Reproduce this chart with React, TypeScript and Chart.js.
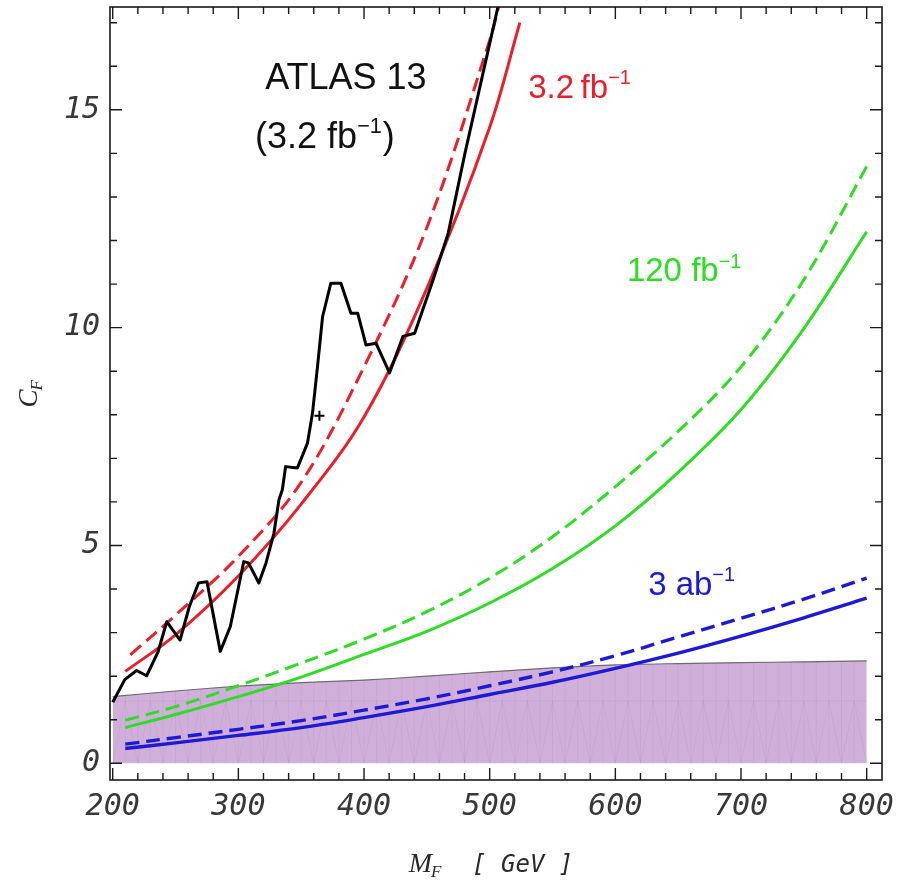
import React, { useEffect, useRef } from 'react';
import { Chart, registerables } from 'chart.js';

Chart.register(...registerables);

// ---- axis ranges and ticks ----
const xMin = 197.85;
const xMax = 812.2;
const yMin = -0.383;
const yMax = 17.36;
const xTickValues = [200, 300, 400, 500, 600, 700, 800];
const yTickValues = [0, 5, 10, 15];

// ---- ATLAS 13 TeV observed limit (3.2 fb^-1) ----
const atlasMass = [200, 209.6, 219, 227, 236, 243, 253.6, 261, 268.3, 275, 285.6, 293.6, 304.3, 308, 316.3, 322, 328.3, 332.3, 335, 337.6, 347, 355, 359, 363, 367, 373.6, 381.6, 389.6, 395, 401.6, 409.6, 420.3, 431, 440.3, 455, 467, 480.3, 510];
const atlasLimit = [1.4, 1.92, 2.13, 2.01, 2.55, 3.25, 2.83, 3.6, 4.14, 4.17, 2.57, 3.14, 4.63, 4.6, 4.14, 4.6, 5.28, 6.05, 6.28, 6.81, 6.78, 7.35, 8.04, 9.11, 10.25, 11.02, 11.02, 10.33, 10.33, 9.6, 9.64, 8.96, 9.8, 9.87, 11.1, 12.17, 14.0, 17.8];
const atlasMarkerMass = [364.5];
const atlasMarkerValue = [7.98];

// ---- 3.2 fb^-1 projections ----
const red32Mass = [210, 250, 300, 350, 400, 450, 500, 524];
const red32Solid = [2.11, 2.95, 4.3, 5.95, 7.95, 10.9, 14.6, 17.0];
const red32DashedMass = [214, 250, 300, 350, 400, 450, 500, 510];
const red32Dashed = [2.49, 3.4, 4.75, 6.45, 9.1, 12.3, 16.6, 17.7];

// ---- 120 fb^-1 and 3 ab^-1 projections ----
const curveMass = [210, 250, 300, 350, 400, 450, 500, 550, 600, 650, 700, 750, 800];
const green120Solid = [0.82, 1.12, 1.53, 1.98, 2.5, 3.03, 3.68, 4.47, 5.45, 6.68, 8.12, 9.98, 12.2];
const green120Dashed = [0.99, 1.3, 1.78, 2.3, 2.85, 3.48, 4.25, 5.2, 6.35, 7.62, 9.1, 11.1, 13.7];
const blue3000Solid = [0.34, 0.47, 0.64, 0.82, 1.05, 1.3, 1.58, 1.86, 2.18, 2.53, 2.92, 3.34, 3.79];
const blue3000Dashed = [0.44, 0.59, 0.78, 0.98, 1.22, 1.48, 1.78, 2.1, 2.47, 2.9, 3.33, 3.77, 4.25];

// ---- shaded region ----
const bandMass = [200, 250, 300, 350, 400, 450, 500, 550, 600, 650, 700, 750, 800];
const bandTop = [1.53, 1.66, 1.77, 1.85, 1.91, 2.0, 2.1, 2.19, 2.26, 2.29, 2.31, 2.33, 2.35];

const RED = '#e8202a';
const GREEN = '#2fdc24';
const BLUE = '#1d1ad6';
const BAND_FILL = 'rgba(206, 172, 216, 0.95)';

const SANS = '"Liberation Sans", Arial, Helvetica, sans-serif';
const MONO = '"DejaVu Sans Mono", monospace';
const SERIF = '"Liberation Serif", "DejaVu Serif", serif';

type Part = { text: string; sup?: boolean };
type Note = { parts: Part[]; mass: number; value: number; size: number; color: string };

// text annotations: left edge (mass) and baseline (C_F)
const notes: Note[] = [
  { parts: [{ text: 'ATLAS 13' }], mass: 321.3, value: 15.48, size: 36, color: '#111' },
  { parts: [{ text: '(3.2 fb' }, { text: '\u22121', sup: true }, { text: ')' }], mass: 313.3, value: 14.13, size: 36, color: '#111' },
  { parts: [{ text: '3.2\u2009fb' }, { text: '\u22121', sup: true }], mass: 530.6, value: 15.28, size: 33, color: RED },
  { parts: [{ text: '120 fb' }, { text: '\u22121', sup: true }], mass: 609.2, value: 11.06, size: 33, color: GREEN },
  { parts: [{ text: '3 ab' }, { text: '\u22121', sup: true }], mass: 626.1, value: 3.86, size: 33, color: BLUE },
];

const BAND_INDEX = 8;

function pts(xs: number[], ys: number[]) {
  return xs.map((m, i) => ({ x: m, y: ys[i] }));
}

function drawParts(ctx: CanvasRenderingContext2D, parts: Part[], x: number, y: number, size: number, color: string) {
  ctx.fillStyle = color;
  ctx.textBaseline = 'alphabetic';
  ctx.textAlign = 'left';
  let cx = x;
  for (const p of parts) {
    const s = p.sup ? size * 0.6 : size;
    ctx.font = `${s}px ${SANS}`;
    const dy = p.sup ? -size * 0.42 : 0;
    ctx.fillText(p.text, cx, y + dy);
    cx += ctx.measureText(p.text).width + (p.sup ? 1 : 0);
  }
}

const decorPlugin = {
  id: 'decor',
  afterDatasetDraw(chart: any, args: any) {
    if (args.index !== BAND_INDEX) return;
    const { ctx, scales } = chart;
    const x = scales.x;
    const y = scales.y;
    ctx.save();
    ctx.beginPath();
    ctx.moveTo(x.getPixelForValue(bandMass[0]), y.getPixelForValue(0));
    bandMass.forEach((m, i) => ctx.lineTo(x.getPixelForValue(m), y.getPixelForValue(bandTop[i])));
    ctx.lineTo(x.getPixelForValue(bandMass[bandMass.length - 1]), y.getPixelForValue(0));
    ctx.closePath();
    ctx.clip();
    // faint mesh inside the shaded region
    ctx.strokeStyle = 'rgba(110, 60, 130, 0.10)';
    ctx.lineWidth = 0.8;
    const y0 = y.getPixelForValue(0);
    const yMid = y.getPixelForValue(1.43);
    const yTop = y.getPixelForValue(2.6);
    ctx.beginPath();
    for (let m = 200; m <= 800; m += 10) {
      const px = x.getPixelForValue(m);
      ctx.moveTo(px, y0);
      ctx.lineTo(px, yTop);
    }
    let up = true;
    ctx.moveTo(x.getPixelForValue(200), y0);
    for (let m = 210; m <= 800; m += 10) {
      ctx.lineTo(x.getPixelForValue(m), up ? yMid : y0);
      up = !up;
    }
    ctx.moveTo(x.getPixelForValue(200), yMid);
    ctx.lineTo(x.getPixelForValue(800), yMid);
    ctx.stroke();
    ctx.restore();
  },
  afterDraw(chart: any) {
    const { ctx, chartArea, scales } = chart;
    const { left, right, top, bottom } = chartArea;
    const x = scales.x;
    const y = scales.y;
    ctx.save();

    // frame
    ctx.strokeStyle = '#1a1a1a';
    ctx.lineWidth = 1.6;
    ctx.strokeRect(left, top, right - left, bottom - top);

    // tick marks on all four sides
    ctx.lineWidth = 1.4;
    ctx.beginPath();
    for (let m = 200; m <= 800; m += 20) {
      const px = x.getPixelForValue(m);
      const len = m % 100 === 0 ? 12 : 7;
      ctx.moveTo(px, bottom);
      ctx.lineTo(px, bottom - len);
      ctx.moveTo(px, top);
      ctx.lineTo(px, top + len);
    }
    for (let c = 0; c <= 17; c += 1) {
      const py = y.getPixelForValue(c);
      const len = c % 5 === 0 ? 12 : 7;
      ctx.moveTo(left, py);
      ctx.lineTo(left + len, py);
      ctx.moveTo(right, py);
      ctx.lineTo(right - len, py);
    }
    ctx.stroke();

    // annotations
    for (const n of notes) {
      drawParts(ctx, n.parts, x.getPixelForValue(n.mass), y.getPixelForValue(n.value), n.size, n.color);
    }

    // x-axis title: M_F [ GeV ]
    ctx.fillStyle = '#2a2a2a';
    ctx.textBaseline = 'alphabetic';
    ctx.textAlign = 'left';
    const cx = (left + right) / 2;
    const by = bottom + 92;
    ctx.font = `italic 28px ${SERIF}`;
    const mW = ctx.measureText('M').width;
    ctx.font = `italic 24px ${MONO}`;
    const gW = ctx.measureText('[ GeV ]').width;
    const total = mW + 14 + 26 + gW;
    const tx = cx - total / 2 - 5;
    ctx.font = `italic 28px ${SERIF}`;
    ctx.fillText('M', tx, by);
    ctx.font = `italic 17px ${SERIF}`;
    ctx.fillText('F', tx + mW - 1, by + 5);
    ctx.font = `italic 24px ${MONO}`;
    ctx.fillText('[ GeV ]', tx + mW + 40, by);

    // y-axis title: C_F (rotated)
    ctx.save();
    ctx.translate(37, (top + bottom) / 2 + 14);
    ctx.rotate(-Math.PI / 2);
    ctx.font = `italic 27px ${SERIF}`;
    const cW = ctx.measureText('C').width;
    ctx.fillText('C', 0, 0);
    ctx.font = `italic 17px ${SERIF}`;
    ctx.fillText('F', cW - 1, 5);
    ctx.restore();

    ctx.restore();
  },
};

export default function App() {
  const ref = useRef<HTMLCanvasElement>(null);

  useEffect(() => {
    document.body.style.margin = '0';
    const canvas = ref.current;
    if (!canvas) return;

    const curve = (data: { x: number; y: number }[], color: string, dashed: boolean, width = 3) => ({
      data,
      borderColor: color,
      backgroundColor: color,
      borderWidth: width,
      borderDash: dashed ? [14, 7] : [],
      pointRadius: 0,
      fill: false,
      tension: 0.35,
      clip: 0,
    });

    const chart = new Chart(canvas, {
      type: 'line',
      data: {
        datasets: [
          {
            data: pts(atlasMass, atlasLimit),
            borderColor: '#000',
            borderWidth: 3,
            pointRadius: 0,
            tension: 0,
            borderJoinStyle: 'round',
            fill: false,
            clip: 0,
          },
          {
            data: pts(atlasMarkerMass, atlasMarkerValue),
            showLine: false,
            pointStyle: 'cross',
            pointRadius: 5,
            borderColor: '#000',
            pointBorderWidth: 2,
          },
          curve(pts(red32Mass, red32Solid), RED, false),
          curve(pts(red32DashedMass, red32Dashed), RED, true),
          curve(pts(curveMass, green120Solid), GREEN, false),
          curve(pts(curveMass, green120Dashed), GREEN, true),
          curve(pts(curveMass, blue3000Solid), BLUE, false, 3.4),
          curve(pts(curveMass, blue3000Dashed), BLUE, true, 3.4),
          {
            data: pts(bandMass, bandTop),
            borderColor: '#6e6a6e',
            borderWidth: 1.2,
            backgroundColor: BAND_FILL,
            fill: 'origin',
            pointRadius: 0,
            tension: 0.3,
            clip: 0,
          },
        ],
      } as any,
      options: {
        responsive: false,
        animation: false,
        events: [],
        layout: { padding: { top: 7, right: 15, left: 0, bottom: 0 } },
        plugins: { legend: { display: false }, tooltip: { enabled: false } },
        scales: {
          x: {
            type: 'linear',
            min: xMin,
            max: xMax,
            border: { display: false },
            grid: { display: false, drawTicks: false },
            afterBuildTicks: (scale: any) => {
              scale.ticks = xTickValues.map((v) => ({ value: v }));
            },
            afterFit: (scale: any) => {
              scale.height = 100;
              scale.paddingLeft = 0;
              scale.paddingRight = 0;
            },
            ticks: {
              padding: 9,
              maxRotation: 0,
              autoSkip: false,
              color: '#383838',
              font: { family: MONO, size: 30, style: 'italic' },
              callback: (v: any) => String(v),
            },
          },
          y: {
            type: 'linear',
            min: yMin,
            max: yMax,
            border: { display: false },
            grid: { display: false, drawTicks: false },
            afterBuildTicks: (scale: any) => {
              scale.ticks = yTickValues.map((v) => ({ value: v }));
            },
            afterFit: (scale: any) => {
              scale.width = 110;
              scale.paddingTop = 0;
              scale.paddingBottom = 0;
            },
            ticks: {
              padding: 10,
              autoSkip: false,
              color: '#383838',
              font: { family: MONO, size: 30, style: 'italic' },
              callback: (v: any) => String(v),
            },
          },
        },
      } as any,
      plugins: [decorPlugin],
    });

    return () => chart.destroy();
  }, []);

  return (
    <div style={{ width: 897, height: 880 }}>
      <canvas ref={ref} width={897} height={880} style={{ display: 'block', width: '897px', height: '880px' }} />
    </div>
  );
}
